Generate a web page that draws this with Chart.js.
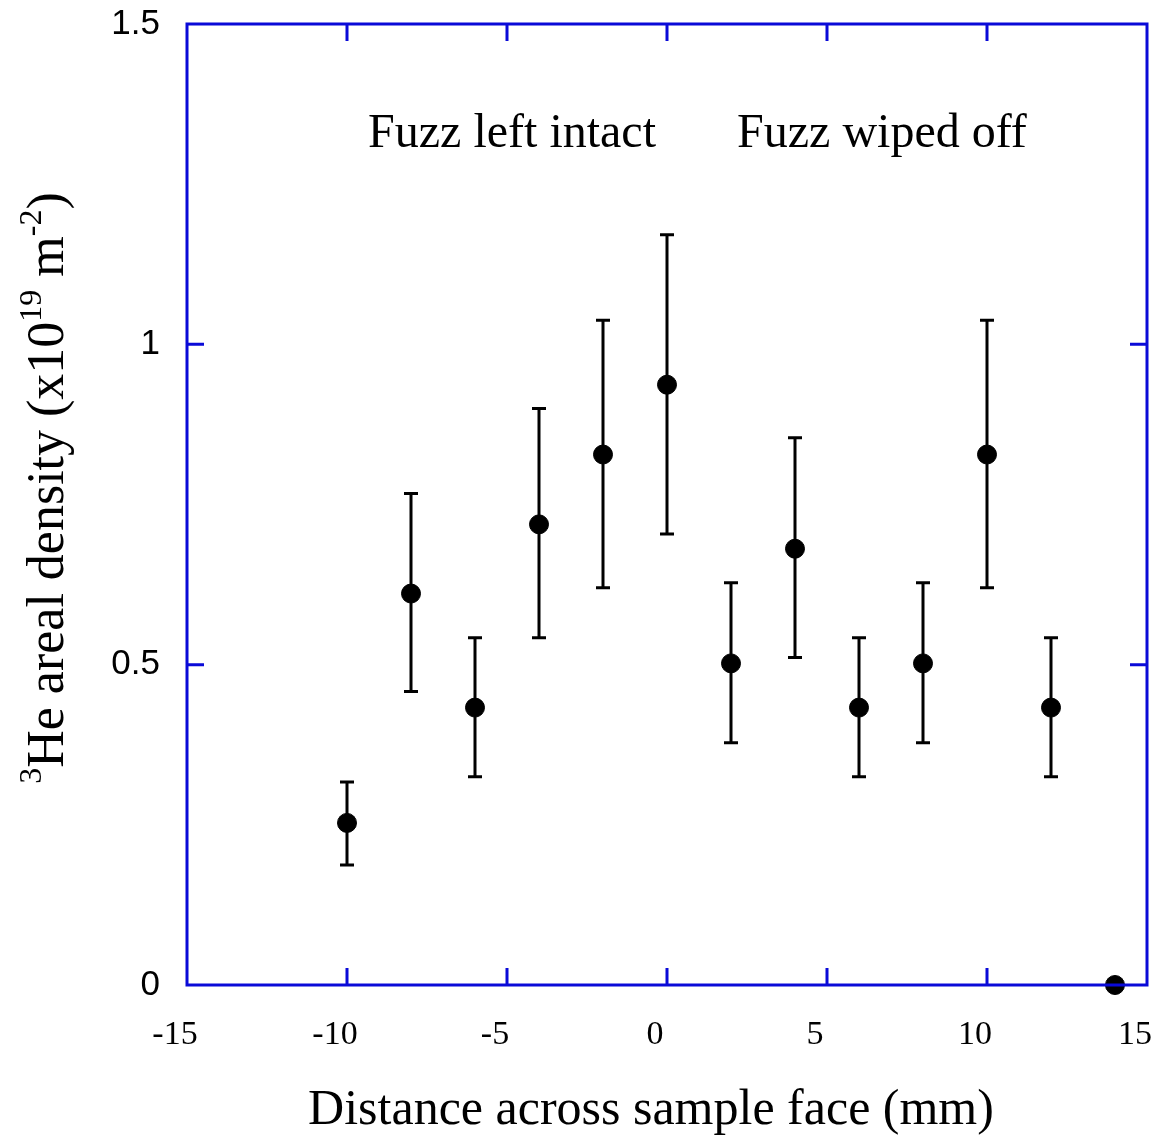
<!DOCTYPE html>
<html>
<head>
<meta charset="utf-8">
<script src="https://cdn.jsdelivr.net/npm/chart.js@4/dist/chart.umd.min.js"></script>
<style>
  html, body { margin: 0; padding: 0; background: #fff; }
  #wrap { width: 1161px; height: 1135px; }
</style>
</head>
<body>
<div id="wrap"><canvas id="heChart" width="1161" height="1135"></canvas></div>
<script>
// distance across sample face (mm)
const distance = [-10, -8, -6, -4, -2, 0, 2, 4, 6, 8, 10, 12, 14];
// 3He areal density (x10^19 m^-2)
const density = [0.253, 0.611, 0.433, 0.719, 0.828, 0.937, 0.502, 0.681, 0.433, 0.502, 0.828, 0.433, 0];
const errHigh = [0.317, 0.767, 0.542, 0.900, 1.0375, 1.171, 0.628, 0.854, 0.542, 0.628, 1.0375, 0.542, null];
const errLow = [0.1875, 0.458, 0.325, 0.542, 0.620, 0.704, 0.378, 0.511, 0.325, 0.378, 0.620, 0.325, null];

const xTicks = [-15, -10, -5, 0, 5, 10, 15];
const yTicks = [0, 0.5, 1, 1.5];

// text notes: [label, x, y]
const notes = [
  ["Fuzz left intact", -9.34, 1.308],
  ["Fuzz wiped off", 2.19, 1.308],
];

const xTitle = "Distance across sample face (mm)";
// y title pieces: [text, superscript?]
const yTitle = [["3", true], ["He areal density (x10", false], ["19", true], [" m", false], ["-2", true], [")", false]];

const axisBlue = "#0a0ad8";
const serif = "'Liberation Serif', 'Times New Roman', serif";

const points = distance.map((d, i) => ({ x: d, y: density[i] }));

function noPad(s) {
  s.paddingTop = 0; s.paddingBottom = 0; s.paddingLeft = 0; s.paddingRight = 0;
}

const frameAndExtras = {
  id: "frameAndExtras",
  beforeDatasetsDraw(chart) {
    const { ctx, scales: { x, y } } = chart;
    ctx.save();
    ctx.strokeStyle = "#000";
    ctx.lineWidth = 3;
    distance.forEach((d, i) => {
      if (errHigh[i] == null) return;
      const px = x.getPixelForValue(d);
      const top = y.getPixelForValue(errHigh[i]);
      const bot = y.getPixelForValue(errLow[i]);
      ctx.beginPath();
      ctx.moveTo(px, top); ctx.lineTo(px, bot);
      ctx.moveTo(px - 7, top); ctx.lineTo(px + 7, top);
      ctx.moveTo(px - 7, bot); ctx.lineTo(px + 7, bot);
      ctx.stroke();
    });
    ctx.restore();
  },
  afterDraw(chart) {
    const { ctx, chartArea: a, scales: { x, y } } = chart;
    ctx.save();
    // frame
    ctx.strokeStyle = axisBlue;
    ctx.lineWidth = 3;
    ctx.strokeRect(a.left, a.top, a.right - a.left, a.bottom - a.top);
    // inward ticks on all sides
    const tl = 17;
    ctx.beginPath();
    xTicks.forEach(v => {
      if (v === xTicks[0] || v === xTicks[xTicks.length - 1]) return;
      const px = x.getPixelForValue(v);
      ctx.moveTo(px, a.bottom); ctx.lineTo(px, a.bottom - tl);
      ctx.moveTo(px, a.top); ctx.lineTo(px, a.top + tl);
    });
    yTicks.forEach(v => {
      if (v === yTicks[0] || v === yTicks[yTicks.length - 1]) return;
      const py = y.getPixelForValue(v);
      ctx.moveTo(a.left, py); ctx.lineTo(a.left + tl, py);
      ctx.moveTo(a.right, py); ctx.lineTo(a.right - tl, py);
    });
    ctx.stroke();

    // notes
    ctx.fillStyle = "#000";
    ctx.font = "48px " + serif;
    ctx.textBaseline = "alphabetic";
    ctx.textAlign = "left";
    notes.forEach(n => ctx.fillText(n[0], x.getPixelForValue(n[1]), y.getPixelForValue(n[2])));

    // x title
    ctx.font = "50px " + serif;
    ctx.textAlign = "center";
    ctx.fillText(xTitle, 651, 1124);

    // y title, rotated, with superscripts
    const mainFont = "52px " + serif;
    const supFont = "32px " + serif;
    let total = 0;
    yTitle.forEach(p => { ctx.font = p[1] ? supFont : mainFont; total += ctx.measureText(p[0]).width; });
    ctx.translate(63, 488);
    ctx.rotate(-Math.PI / 2);
    ctx.textAlign = "left";
    let cx = -total / 2;
    yTitle.forEach(p => {
      ctx.font = p[1] ? supFont : mainFont;
      ctx.fillText(p[0], cx, p[1] ? -22 : 0);
      cx += ctx.measureText(p[0]).width;
    });
    ctx.restore();
  }
};

new Chart(document.getElementById("heChart"), {
  type: "scatter",
  data: {
    datasets: [{
      data: points,
      backgroundColor: "#000",
      borderColor: "#000",
      pointRadius: 9.5,
      pointHoverRadius: 9.5,
      clip: false,
    }]
  },
  options: {
    responsive: false,
    animation: false,
    layout: { autoPadding: false, padding: { top: 24, right: 14, left: 0, bottom: 0 } },
    plugins: { legend: { display: false }, tooltip: { enabled: false } },
    scales: {
      x: {
        type: "linear",
        min: -15, max: 15,
        afterBuildTicks: s => { s.ticks = xTicks.map(v => ({ value: v })); },
        afterFit: s => { s.height = 150; noPad(s); },
        grid: { display: false },
        border: { display: false },
        ticks: {
          color: "#000",
          font: { family: serif, size: 34 },
          padding: 22,
          labelOffset: -12,
          maxRotation: 0,
        },
      },
      y: {
        min: 0, max: 1.5,
        afterBuildTicks: s => { s.ticks = yTicks.map(v => ({ value: v })); },
        afterFit: s => { s.width = 187; noPad(s); },
        grid: { display: false },
        border: { display: false },
        ticks: {
          color: "#000",
          font: { family: "'Liberation Sans', Arial, sans-serif", size: 35 },
          padding: 19,
          callback: v => String(v),
        },
      },
    },
  },
  plugins: [frameAndExtras],
});
</script>
</body>
</html>
